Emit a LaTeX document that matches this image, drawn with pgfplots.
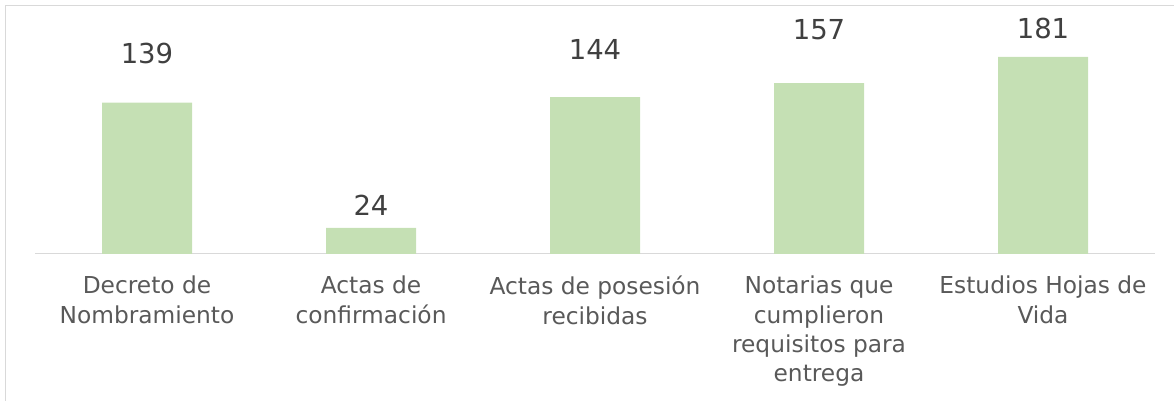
\documentclass[border=0pt]{standalone}
\usepackage{pgfplots}
\pgfplotsset{compat=1.18}
\usepackage{pgfplotstable}
\usepackage{fontspec}
\setmainfont{DejaVu Sans}
\definecolor{barcol}{HTML}{C5E0B4}
\definecolor{gridcol}{HTML}{D9D9D9}
\definecolor{labcol}{HTML}{595959}
\definecolor{valcol}{HTML}{404040}
\pgfplotstableread{
x y ly
0 139 184.4
1 24 45.0
2 144 187.6
3 157 206.4
4 181 206.9
}\datatable
\begin{document}
\begin{tikzpicture}[x=1pt,y=1pt]
\path[use as bounding box] (0,0) rectangle (1174,401);
\draw[gridcol, line width=1pt] (5.5,-20) -- (5.5,395.5) -- (1200,395.5);
\begin{axis}[
  at={(35pt,147pt)}, anchor=south west,
  scale only axis,
  width=1120pt, height=228.7pt,
  xmin=-0.5, xmax=4.5, ymin=0, ymax=210,
  axis x line=bottom,
  axis y line=none,
  x axis line style={-, draw=gridcol, line width=1pt},
  clip=false,
  ytick=\empty,
  xtick={0,1,2,3,4},
  xtick style={draw=none},
  major tick length=0pt,
  /pgf/number format/assume math mode=true,
  xticklabels={{Decreto de\\Nombramiento},{Actas de\\confirmación},{Actas de posesión\\recibidas},{Notarias que\\cumplieron\\requisitos para\\entrega},{Estudios Hojas de\\Vida}},
  xticklabel style={anchor=north, inner sep=0pt, align=center, text=labcol, font=\fontsize{23.3}{29.3}\selectfont, yshift=-22pt},
]
\addplot[ybar, bar width=90pt, fill=barcol, draw=none, bar shift=0pt] table[x=x, y=y] {\datatable};
\addplot[only marks, mark=none, point meta=explicit symbolic,
  nodes near coords={\pgfplotspointmeta},
  nodes near coords style={anchor=center, inner sep=0pt, text=valcol, font=\fontsize{27.5}{32}\selectfont}]
  table[x=x, y=ly, meta=y] {\datatable};
\end{axis}
\end{tikzpicture}
\end{document}
